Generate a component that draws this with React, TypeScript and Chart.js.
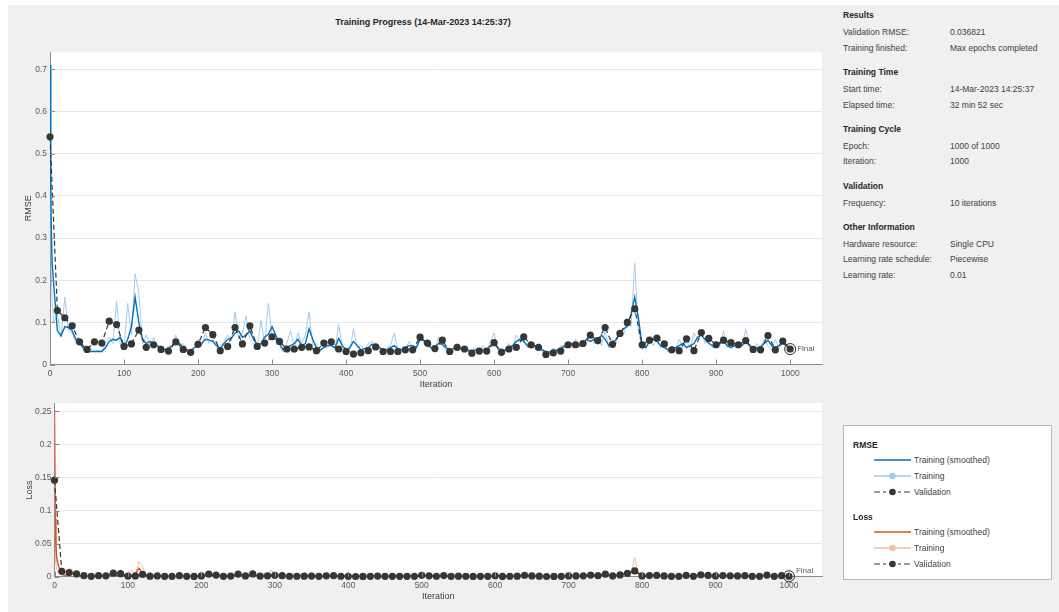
import React, { useEffect, useRef } from "react";
import { Chart, registerables } from "chart.js";

Chart.register(...registerables);

const FONT = "'Liberation Sans', Arial, Helvetica, sans-serif";

// ---- training record -------------------------------------------------------

const VALIDATION_FREQUENCY = 10;
const FINAL_ITERATION = 1000;

// iterations at which the training curves are sampled
const trainIterations = [0, 1, 2, 3, ...Array.from({ length: 200 }, (_, i) => 5 * (i + 1))];
const validationIterations = Array.from(
  { length: FINAL_ITERATION / VALIDATION_FREQUENCY + 1 },
  (_, i) => i * VALIDATION_FREQUENCY
);

const rmseTrainingSmoothed = [
  0.71, 0.42, 0.30, 0.24,
  0.19, 0.08, 0.068, 0.09, 0.088, 0.08, 0.06, 0.05, 0.04, 0.032, 0.031, 0.031, 0.031, 0.031, 0.04, 0.055, 0.06, 0.058, 0.065, 0.04,
  0.06, 0.09, 0.16, 0.10, 0.06, 0.05, 0.055, 0.05, 0.045, 0.04, 0.035, 0.038, 0.045, 0.058, 0.05, 0.04, 0.035, 0.032, 0.04, 0.045,
  0.05, 0.06, 0.058, 0.055, 0.045, 0.038, 0.05, 0.06, 0.062, 0.075, 0.08, 0.065, 0.07, 0.08, 0.06, 0.048, 0.05, 0.065, 0.072, 0.09,
  0.07, 0.05, 0.035, 0.04, 0.045, 0.05, 0.06, 0.045, 0.05, 0.085, 0.06, 0.04, 0.035, 0.04, 0.045, 0.045, 0.04, 0.062, 0.045, 0.035,
  0.04, 0.055, 0.045, 0.035, 0.038, 0.04, 0.048, 0.045, 0.04, 0.035, 0.035, 0.04, 0.045, 0.038, 0.035, 0.04, 0.045, 0.045, 0.04, 0.06,
  0.058, 0.045, 0.04, 0.042, 0.05, 0.048, 0.04, 0.035, 0.038, 0.04, 0.038, 0.035, 0.035, 0.03, 0.035, 0.038, 0.035, 0.035, 0.045, 0.05,
  0.04, 0.032, 0.035, 0.04, 0.045, 0.055, 0.06, 0.055, 0.045, 0.04, 0.045, 0.04, 0.035, 0.03, 0.03, 0.032, 0.035, 0.038, 0.045, 0.045,
  0.05, 0.048, 0.045, 0.05, 0.06, 0.055, 0.06, 0.05, 0.07, 0.06, 0.045, 0.05, 0.06, 0.075, 0.085, 0.09, 0.12, 0.16, 0.11, 0.045,
  0.04, 0.055, 0.06, 0.055, 0.045, 0.04, 0.035, 0.038, 0.04, 0.045, 0.05, 0.04, 0.045, 0.05, 0.065, 0.07, 0.06, 0.05, 0.045, 0.045,
  0.05, 0.055, 0.045, 0.04, 0.045, 0.05, 0.045, 0.055, 0.045, 0.04, 0.04, 0.042, 0.05, 0.058, 0.045, 0.04, 0.045, 0.05, 0.045, 0.04,
];

const rmseTraining = [
  0.70, 0.35, 0.20, 0.15,
  0.10, 0.12, 0.065, 0.16, 0.08, 0.075, 0.05, 0.06, 0.035, 0.03, 0.04, 0.03, 0.035, 0.03, 0.05, 0.065, 0.05, 0.15, 0.045, 0.04,
  0.145, 0.07, 0.215, 0.17, 0.05, 0.07, 0.045, 0.065, 0.04, 0.045, 0.03, 0.045, 0.04, 0.07, 0.045, 0.05, 0.03, 0.035, 0.04, 0.06,
  0.045, 0.075, 0.05, 0.06, 0.04, 0.045, 0.055, 0.07, 0.055, 0.125, 0.06, 0.075, 0.115, 0.06, 0.05, 0.04, 0.105, 0.05, 0.145, 0.07,
  0.06, 0.045, 0.03, 0.05, 0.08, 0.04, 0.075, 0.05, 0.07, 0.125, 0.045, 0.05, 0.03, 0.045, 0.04, 0.05, 0.035, 0.095, 0.04, 0.04,
  0.03, 0.085, 0.04, 0.045, 0.035, 0.05, 0.055, 0.04, 0.045, 0.03, 0.04, 0.045, 0.075, 0.035, 0.04, 0.035, 0.055, 0.04, 0.045, 0.07,
  0.05, 0.04, 0.05, 0.035, 0.065, 0.045, 0.035, 0.04, 0.03, 0.05, 0.035, 0.04, 0.03, 0.035, 0.04, 0.03, 0.045, 0.03, 0.055, 0.075,
  0.035, 0.04, 0.03, 0.05, 0.04, 0.07, 0.055, 0.06, 0.04, 0.05, 0.035, 0.05, 0.03, 0.035, 0.025, 0.04, 0.03, 0.045, 0.04, 0.055,
  0.045, 0.06, 0.04, 0.055, 0.05, 0.075, 0.05, 0.065, 0.045, 0.08, 0.04, 0.06, 0.05, 0.08, 0.07, 0.11, 0.09, 0.24, 0.08, 0.035,
  0.05, 0.06, 0.045, 0.065, 0.04, 0.05, 0.03, 0.045, 0.035, 0.06, 0.04, 0.055, 0.04, 0.075, 0.06, 0.08, 0.05, 0.06, 0.04, 0.055,
  0.045, 0.08, 0.04, 0.05, 0.045, 0.055, 0.045, 0.085, 0.04, 0.035, 0.05, 0.04, 0.06, 0.045, 0.035, 0.06, 0.04, 0.055, 0.04, 0.035,
];

const rmseValidation = [
  0.54, 0.128, 0.111, 0.092, 0.054, 0.036, 0.054, 0.051, 0.103, 0.095,
  0.043, 0.049, 0.082, 0.041, 0.047, 0.036, 0.032, 0.054, 0.036, 0.029,
  0.048, 0.088, 0.071, 0.033, 0.043, 0.088, 0.049, 0.092, 0.043, 0.051,
  0.066, 0.055, 0.037, 0.037, 0.041, 0.042, 0.033, 0.051, 0.054, 0.037,
  0.031, 0.025, 0.028, 0.033, 0.042, 0.031, 0.031, 0.031, 0.035, 0.035,
  0.065, 0.051, 0.038, 0.058, 0.031, 0.041, 0.037, 0.027, 0.032, 0.032,
  0.052, 0.029, 0.037, 0.041, 0.066, 0.047, 0.041, 0.024, 0.028, 0.032,
  0.047, 0.047, 0.05, 0.07, 0.057, 0.088, 0.048, 0.074, 0.1, 0.132,
  0.047, 0.058, 0.063, 0.049, 0.035, 0.033, 0.061, 0.033, 0.076, 0.062,
  0.047, 0.058, 0.052, 0.047, 0.057, 0.036, 0.035, 0.069, 0.035, 0.056,
  0.036821,
];

const lossTrainingSmoothed = [
  0.252, 0.088, 0.045, 0.029,
  0.018, 0.0032, 0.0023, 0.0041, 0.0039, 0.0032, 0.0018, 0.0013, 0.0008, 0.0005, 0.0005, 0.0005, 0.0005, 0.0005, 0.0008, 0.0015, 0.0018, 0.0017, 0.0021, 0.0008,
  0.0018, 0.0041, 0.0128, 0.005, 0.0018, 0.0013, 0.0015, 0.0013, 0.001, 0.0008, 0.0006, 0.0007, 0.001, 0.0017, 0.0013, 0.0008, 0.0006, 0.0005, 0.0008, 0.001,
  0.0013, 0.0018, 0.0017, 0.0015, 0.001, 0.0007, 0.0013, 0.0018, 0.0019, 0.0028, 0.0032, 0.0021, 0.0025, 0.0032, 0.0018, 0.0012, 0.0013, 0.0021, 0.0026, 0.0041,
  0.0025, 0.0013, 0.0006, 0.0008, 0.001, 0.0013, 0.0018, 0.001, 0.0013, 0.0036, 0.0018, 0.0008, 0.0006, 0.0008, 0.001, 0.001, 0.0008, 0.0019, 0.001, 0.0006,
  0.0008, 0.0015, 0.001, 0.0006, 0.0007, 0.0008, 0.0012, 0.001, 0.0008, 0.0006, 0.0006, 0.0008, 0.001, 0.0007, 0.0006, 0.0008, 0.001, 0.001, 0.0008, 0.0018,
  0.0017, 0.001, 0.0008, 0.0009, 0.0013, 0.0012, 0.0008, 0.0006, 0.0007, 0.0008, 0.0007, 0.0006, 0.0006, 0.0005, 0.0006, 0.0007, 0.0006, 0.0006, 0.001, 0.0013,
  0.0008, 0.0005, 0.0006, 0.0008, 0.001, 0.0015, 0.0018, 0.0015, 0.001, 0.0008, 0.001, 0.0008, 0.0006, 0.0005, 0.0005, 0.0005, 0.0006, 0.0007, 0.001, 0.001,
  0.0013, 0.0012, 0.001, 0.0013, 0.0018, 0.0015, 0.0018, 0.0013, 0.0025, 0.0018, 0.001, 0.0013, 0.0018, 0.0028, 0.0036, 0.0041, 0.0072, 0.0128, 0.006, 0.001,
  0.0008, 0.0015, 0.0018, 0.0015, 0.001, 0.0008, 0.0006, 0.0007, 0.0008, 0.001, 0.0013, 0.0008, 0.001, 0.0013, 0.0021, 0.0025, 0.0018, 0.0013, 0.001, 0.001,
  0.0013, 0.0015, 0.001, 0.0008, 0.001, 0.0013, 0.001, 0.0015, 0.001, 0.0008, 0.0008, 0.0009, 0.0013, 0.0017, 0.001, 0.0008, 0.001, 0.0013, 0.001, 0.0008,
];

const lossTraining = [
  0.245, 0.061, 0.02, 0.011,
  0.005, 0.0072, 0.0021, 0.0128, 0.0032, 0.0028, 0.0013, 0.0018, 0.0006, 0.0005, 0.0008, 0.0005, 0.0006, 0.0005, 0.0013, 0.0021, 0.0013, 0.0113, 0.001, 0.0008,
  0.0105, 0.0025, 0.0231, 0.0145, 0.0013, 0.0025, 0.001, 0.0021, 0.0008, 0.001, 0.0005, 0.001, 0.0008, 0.0025, 0.001, 0.0013, 0.0005, 0.0006, 0.0008, 0.0018,
  0.001, 0.0028, 0.0013, 0.0018, 0.0008, 0.001, 0.0015, 0.0025, 0.0015, 0.0078, 0.0018, 0.0028, 0.0066, 0.0018, 0.0013, 0.0008, 0.0055, 0.0013, 0.0105, 0.0025,
  0.0018, 0.001, 0.0005, 0.0013, 0.0032, 0.0008, 0.0028, 0.0013, 0.0025, 0.0078, 0.001, 0.0013, 0.0005, 0.001, 0.0008, 0.0013, 0.0006, 0.0045, 0.0008, 0.0008,
  0.0005, 0.0036, 0.0008, 0.001, 0.0006, 0.0013, 0.0015, 0.0008, 0.001, 0.0005, 0.0008, 0.001, 0.0028, 0.0006, 0.0008, 0.0006, 0.0015, 0.0008, 0.001, 0.0025,
  0.0013, 0.0008, 0.0013, 0.0006, 0.0021, 0.001, 0.0006, 0.0008, 0.0005, 0.0013, 0.0006, 0.0008, 0.0005, 0.0006, 0.0008, 0.0005, 0.001, 0.0005, 0.0015, 0.0028,
  0.0006, 0.0008, 0.0005, 0.0013, 0.0008, 0.0025, 0.0015, 0.0018, 0.0008, 0.0013, 0.0006, 0.0013, 0.0005, 0.0006, 0.0003, 0.0008, 0.0005, 0.001, 0.0008, 0.0015,
  0.001, 0.0018, 0.0008, 0.0015, 0.0013, 0.0028, 0.0013, 0.0021, 0.001, 0.0032, 0.0008, 0.0018, 0.0013, 0.0032, 0.0025, 0.006, 0.0041, 0.0288, 0.0032, 0.0006,
  0.0013, 0.0018, 0.001, 0.0021, 0.0008, 0.0013, 0.0005, 0.001, 0.0006, 0.0018, 0.0008, 0.0015, 0.0008, 0.0028, 0.0018, 0.0032, 0.0013, 0.0018, 0.0008, 0.0015,
  0.001, 0.0032, 0.0008, 0.0013, 0.001, 0.0015, 0.001, 0.0036, 0.0008, 0.0006, 0.0013, 0.0008, 0.0018, 0.001, 0.0006, 0.0018, 0.0008, 0.0015, 0.0008, 0.0006,
];

const lossValidation = [
  0.1458, 0.0082, 0.0062, 0.0042, 0.0015, 0.0006, 0.0015, 0.0013, 0.0053, 0.0045,
  0.0009, 0.0012, 0.0034, 0.0008, 0.0011, 0.0006, 0.0005, 0.0015, 0.0006, 0.0004,
  0.0012, 0.0039, 0.0025, 0.0005, 0.0009, 0.0039, 0.0012, 0.0042, 0.0009, 0.0013,
  0.0022, 0.0015, 0.0007, 0.0007, 0.0008, 0.0009, 0.0005, 0.0013, 0.0015, 0.0007,
  0.0005, 0.0003, 0.0004, 0.0005, 0.0009, 0.0005, 0.0005, 0.0005, 0.0006, 0.0006,
  0.0021, 0.0013, 0.0007, 0.0017, 0.0005, 0.0008, 0.0007, 0.0004, 0.0005, 0.0005,
  0.0014, 0.0004, 0.0007, 0.0008, 0.0022, 0.0011, 0.0008, 0.0003, 0.0004, 0.0005,
  0.0011, 0.0011, 0.0013, 0.0025, 0.0016, 0.0039, 0.0012, 0.0027, 0.005, 0.0087,
  0.0011, 0.0017, 0.002, 0.0012, 0.0006, 0.0005, 0.0019, 0.0005, 0.0029, 0.0019,
  0.0011, 0.0017, 0.0014, 0.0011, 0.0016, 0.0006, 0.0006, 0.0024, 0.0006, 0.0016,
  0.0007,
];

const infoSections: { heading: string; rows: [string, string][] }[] = [
  { heading: "Results", rows: [["Validation RMSE:", "0.036821"], ["Training finished:", "Max epochs completed"]] },
  { heading: "Training Time", rows: [["Start time:", "14-Mar-2023 14:25:37"], ["Elapsed time:", "32 min 52 sec"]] },
  { heading: "Training Cycle", rows: [["Epoch:", "1000 of 1000"], ["Iteration:", "1000"]] },
  { heading: "Validation", rows: [["Frequency:", "10 iterations"]] },
  {
    heading: "Other Information",
    rows: [["Hardware resource:", "Single CPU"], ["Learning rate schedule:", "Piecewise"], ["Learning rate:", "0.01"]],
  },
];

// ---- styling ---------------------------------------------------------------

const BLUE = "#0072BD";
const BLUE_LIGHT = "#a6cbea";
const ORANGE = "#D95319";
const ORANGE_LIGHT = "#f4bea2";
const VAL_COLOR = "#363636";
const AXIS_COLOR = "#8c8c8c";
const GRID_COLOR = "#e6e6e6";
const TICK_COLOR = "#5a5a5a";
const LABEL_COLOR = "#404040";
const PAGE_BG = "#f0f0f0";

type Pt = { x: number; y: number };
const toPoints = (xs: number[], ys: number[]): Pt[] => ys.map((y, i) => ({ x: xs[i], y }));

interface PanelSpec {
  yLabel: string;
  yMax: number;
  yStep: number;
  xMax: number;
  yAxisWidth: number;
  xAxisHeight: number;
  padTop: number;
  padRight: number;
  yTitlePad: number;
  xTitlePad: number;
  smoothed: number[];
  raw: number[];
  validation: number[];
  smoothedColor: string;
  rawColor: string;
  finalDy: number;
}

// white plot box plus MATLAB-style inward tick marks
const plotBoxPlugin = {
  id: "plotBox",
  beforeDraw(chart: any) {
    const { ctx, chartArea: a } = chart;
    ctx.save();
    ctx.fillStyle = "#ffffff";
    ctx.fillRect(a.left, a.top, a.right - a.left, a.bottom - a.top);
    ctx.restore();
  },
  afterDraw(chart: any) {
    const { ctx, chartArea: a, scales } = chart;
    ctx.save();
    ctx.strokeStyle = AXIS_COLOR;
    ctx.lineWidth = 1;
    ctx.beginPath();
    scales.x.ticks.forEach((t: any) => {
      const px = Math.round(scales.x.getPixelForValue(t.value)) + 0.5;
      ctx.moveTo(px, a.bottom);
      ctx.lineTo(px, a.bottom - 5);
    });
    scales.y.ticks.forEach((t: any) => {
      const py = Math.round(scales.y.getPixelForValue(t.value)) + 0.5;
      ctx.moveTo(a.left, py);
      ctx.lineTo(a.left + 5, py);
    });
    ctx.stroke();
    ctx.restore();
  },
};

// "Final" tag next to the last validation point
const finalTagPlugin = {
  id: "finalTag",
  afterDatasetsDraw(chart: any, _args: any, opts: any) {
    const pt = chart.getDatasetMeta(0).data[0];
    if (!pt) return;
    const ctx = chart.ctx;
    ctx.save();
    ctx.font = `8px ${FONT}`;
    ctx.fillStyle = "#595959";
    ctx.textBaseline = "middle";
    ctx.fillText("Final", pt.x + 7, pt.y + (opts.dy || 0));
    ctx.restore();
  },
};

function buildConfig(p: PanelSpec): any {
  const last = validationIterations.length - 1;
  return {
    type: "line",
    data: {
      datasets: [
        {
          label: "Final",
          data: [{ x: validationIterations[last], y: p.validation[last] }],
          showLine: false,
          pointRadius: 5.5,
          pointBackgroundColor: "rgba(0,0,0,0)",
          pointBorderColor: "#2a2a2a",
          pointBorderWidth: 1,
          clip: false,
        },
        {
          label: "Validation",
          data: toPoints(validationIterations, p.validation),
          borderColor: VAL_COLOR,
          borderWidth: 1.2,
          borderDash: [5, 3],
          pointRadius: 3.6,
          pointBackgroundColor: VAL_COLOR,
          pointBorderColor: VAL_COLOR,
          pointBorderWidth: 0,
          clip: false,
        },
        {
          label: "Training (smoothed)",
          data: toPoints(trainIterations, p.smoothed),
          borderColor: p.smoothedColor,
          borderWidth: 1.4,
          pointRadius: 0,
        },
        {
          label: "Training",
          data: toPoints(trainIterations, p.raw),
          borderColor: p.rawColor,
          borderWidth: 1,
          pointRadius: 0,
        },
      ],
    },
    options: {
      responsive: false,
      animation: false,
      devicePixelRatio: 1,
      events: [],
      layout: { padding: { left: 0, top: p.padTop, right: p.padRight, bottom: 0 } },
      plugins: {
        legend: { display: false },
        tooltip: { enabled: false },
        finalTag: { dy: p.finalDy },
      },
      scales: {
        x: {
          type: "linear",
          min: 0,
          max: p.xMax,
          grid: { display: false, drawTicks: false },
          border: { display: true, color: AXIS_COLOR, width: 1 },
          ticks: {
            stepSize: 100,
            includeBounds: false,
            autoSkip: false,
            maxRotation: 0,
            padding: 4,
            color: TICK_COLOR,
            font: { size: 8.5, family: FONT },
            callback: (v: number) => String(v),
          },
          title: {
            display: true,
            text: "Iteration",
            color: LABEL_COLOR,
            font: { size: 9, family: FONT },
            padding: { top: 0, bottom: p.xTitlePad },
          },
          afterFit: (s: any) => {
            s.height = p.xAxisHeight;
          },
        },
        y: {
          type: "linear",
          min: 0,
          max: p.yMax,
          grid: { color: GRID_COLOR, drawTicks: false, lineWidth: 1 },
          border: { display: true, color: AXIS_COLOR, width: 1 },
          ticks: {
            stepSize: p.yStep,
            includeBounds: false,
            padding: 3,
            color: TICK_COLOR,
            font: { size: 8.5, family: FONT },
            callback: (v: number) => String(Number(v.toFixed(3))),
          },
          title: {
            display: true,
            text: p.yLabel,
            color: LABEL_COLOR,
            font: { size: 9, family: FONT },
            padding: { top: p.yTitlePad, bottom: 0 },
          },
          afterFit: (s: any) => {
            s.width = p.yAxisWidth;
          },
        },
      },
    },
    plugins: [plotBoxPlugin, finalTagPlugin],
  };
}

const rmsePanel: PanelSpec = {
  yLabel: "RMSE",
  yMax: 0.741,
  yStep: 0.1,
  xMax: 1043,
  yAxisWidth: 50,
  xAxisHeight: 35.4,
  padTop: 52,
  padRight: 8,
  yTitlePad: 22.9,
  xTitlePad: 9.6,
  smoothed: rmseTrainingSmoothed,
  raw: rmseTraining,
  validation: rmseValidation,
  smoothedColor: BLUE,
  rawColor: BLUE_LIGHT,
  finalDy: 0,
};

const lossPanel: PanelSpec = {
  yLabel: "Loss",
  yMax: 0.2623,
  yStep: 0.05,
  xMax: 1045,
  yAxisWidth: 54.5,
  xAxisHeight: 35.3,
  padTop: 5,
  padRight: 8,
  yTitlePad: 23.9,
  xTitlePad: 9.9,
  smoothed: lossTrainingSmoothed,
  raw: lossTraining,
  validation: lossValidation,
  smoothedColor: ORANGE,
  rawColor: ORANGE_LIGHT,
  finalDy: -5,
};

function ChartCanvas({ spec, left, top, width, height }: { spec: PanelSpec; left: number; top: number; width: number; height: number }) {
  const ref = useRef<HTMLCanvasElement | null>(null);
  useEffect(() => {
    if (!ref.current) return;
    const chart = new Chart(ref.current, buildConfig(spec));
    return () => chart.destroy();
  }, [spec]);
  return (
    <canvas
      ref={ref}
      width={width}
      height={height}
      style={{ position: "absolute", left, top, width, height }}
    />
  );
}

function Swatch({ color, dot, dashed }: { color: string; dot: boolean; dashed?: boolean }) {
  return (
    <svg width={37} height={10} style={{ position: "absolute", left: 29.7, top: -5 }}>
      <line
        x1={0}
        y1={5}
        x2={37}
        y2={5}
        stroke={color}
        strokeWidth={dashed ? 1.2 : 1.4}
        strokeDasharray={dashed ? "6 3 3 3" : undefined}
      />
      {dot && <circle cx={18.5} cy={5} r={3.3} fill={color} />}
    </svg>
  );
}

const legendGroups = [
  {
    title: "RMSE",
    top: 19,
    items: [
      { label: "Training (smoothed)", color: BLUE, dot: false, dashed: false },
      { label: "Training", color: BLUE_LIGHT, dot: true, dashed: false },
      { label: "Validation", color: VAL_COLOR, dot: true, dashed: true },
    ],
  },
  {
    title: "Loss",
    top: 91,
    items: [
      { label: "Training (smoothed)", color: ORANGE, dot: false, dashed: false },
      { label: "Training", color: ORANGE_LIGHT, dot: true, dashed: false },
      { label: "Validation", color: VAL_COLOR, dot: true, dashed: true },
    ],
  },
];

function Legend() {
  return (
    <div
      style={{
        position: "absolute",
        left: 843,
        top: 425,
        width: 207,
        height: 153,
        border: "1px solid #b8b8b8",
        background: "#ffffff",
        fontFamily: FONT,
        fontSize: 8.5,
        color: LABEL_COLOR,
      }}
    >
      {legendGroups.map((g) => (
        <React.Fragment key={g.title}>
          <div style={{ position: "absolute", left: 9, top: g.top - 6, lineHeight: "12px", fontWeight: "bold", color: "#262626" }}>
            {g.title}
          </div>
          {g.items.map((it, i) => {
            const cy = g.top + 14.5 + i * 16.3;
            return (
              <div key={it.label + i} style={{ position: "absolute", left: 0, top: cy, width: 200, height: 0 }}>
                <Swatch color={it.color} dot={it.dot} dashed={it.dashed} />
                <div style={{ position: "absolute", left: 70, top: -6, lineHeight: "12px", whiteSpace: "nowrap" }}>{it.label}</div>
              </div>
            );
          })}
        </React.Fragment>
      ))}
    </div>
  );
}

function InfoPanel() {
  const lines: React.ReactNode[] = [];
  let y = 15;
  infoSections.forEach((sec, si) => {
    if (si > 0) y += 24.3;
    lines.push(
      <div key={sec.heading} style={{ position: "absolute", left: 843, top: y - 6, lineHeight: "12px", fontWeight: "bold", color: "#262626" }}>
        {sec.heading}
      </div>
    );
    sec.rows.forEach(([label, value], ri) => {
      y += ri === 0 ? 16.8 : 15.8;
      lines.push(
        <React.Fragment key={sec.heading + label}>
          <div style={{ position: "absolute", left: 843, top: y - 6, lineHeight: "12px", whiteSpace: "nowrap" }}>{label}</div>
          <div style={{ position: "absolute", left: 950, top: y - 6, lineHeight: "12px", whiteSpace: "nowrap" }}>{value}</div>
        </React.Fragment>
      );
    });
  });
  return <div style={{ fontFamily: FONT, fontSize: 8.5, color: LABEL_COLOR }}>{lines}</div>;
}

export default function App() {
  return (
    <div style={{ position: "absolute", left: 0, top: 0, width: 1059, height: 612, background: "#ffffff", overflow: "hidden" }}>
      <div style={{ position: "absolute", left: 8, top: 5, width: 1051, height: 607, background: PAGE_BG }} />
      <div
        style={{
          position: "absolute",
          left: 0,
          top: 16,
          width: 846,
          textAlign: "center",
          fontFamily: FONT,
          fontWeight: "bold",
          fontSize: 9,
          lineHeight: "13px",
          color: "#262626",
        }}
      >
        Training Progress (14-Mar-2023 14:25:37)
      </div>
      <ChartCanvas spec={rmsePanel} left={0} top={0} width={830} height={400} />
      <ChartCanvas spec={lossPanel} left={0} top={395} width={830} height={217} />
      <InfoPanel />
      <Legend />
    </div>
  );
}
